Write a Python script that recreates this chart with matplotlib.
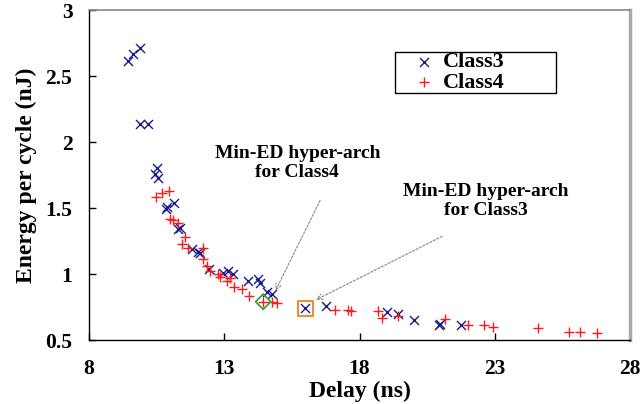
import matplotlib
matplotlib.use("Agg")
import matplotlib.pyplot as plt
from matplotlib.patches import Rectangle
import numpy as np

# ---- data ----
class3_delay = [9.44, 9.63, 9.89, 9.89, 10.19, 10.52, 10.44, 10.56, 10.89, 11.15, 10.85,
                11.30, 11.37, 11.81, 12.04, 12.11, 12.44, 12.96, 13.15, 13.33, 13.89,
                14.26, 14.33, 14.59, 14.78, 16.00, 16.78, 19.00, 19.41, 20.00, 20.96,
                20.93, 21.74]
class3_energy = [2.61, 2.67, 2.71, 2.14, 2.14, 1.80, 1.76, 1.73, 1.51, 1.54, 1.49,
                 1.34, 1.35, 1.19, 1.17, 1.16, 1.04, 1.01, 1.02, 1.00, 0.95,
                 0.96, 0.93, 0.86, 0.85, 0.74, 0.76, 0.71, 0.70, 0.65, 0.62,
                 0.61, 0.61]
class4_delay = [10.48, 10.70, 10.96, 11.00, 11.11, 11.30, 11.56, 11.44, 11.67, 12.22,
                12.22, 12.37, 12.48, 12.78, 12.85, 13.11, 13.22, 13.37, 13.67, 13.93,
                14.44, 14.78, 14.96, 17.11, 17.59, 17.70, 18.67, 18.85, 19.44, 21.15,
                22.00, 22.59, 22.93, 24.59, 25.74, 26.15, 26.78]
class4_energy = [1.58, 1.61, 1.63, 1.42, 1.41, 1.39, 1.28, 1.23, 1.20, 1.20,
                 1.11, 1.06, 1.02, 1.00, 0.98, 0.95, 0.97, 0.90, 0.89, 0.83,
                 0.79, 0.79, 0.78, 0.73, 0.73, 0.72, 0.72, 0.67, 0.68, 0.66,
                 0.61, 0.61, 0.60, 0.59, 0.56, 0.56, 0.55]
x_ticks = [8, 13, 18, 23, 28]
y_ticks = [0.5, 1, 1.5, 2, 2.5, 3]
y_tick_labels = ["0.5", "1", "1.5", "2", "2.5", "3"]

plt.rcParams['font.family'] = ['Liberation Serif', 'DejaVu Serif']
plt.rcParams['font.weight'] = 'bold'

fig = plt.figure(figsize=(6.42, 4.04), dpi=100)
ax = fig.add_axes([89/642, 64/404, 541/642, 330/404])

navy = '#1a1a8c'
red = '#ff1a1a'
ax.scatter(class3_delay, class3_energy, marker='x', s=42, color=navy, linewidths=1.0,
           label='Class3', zorder=3)
ax.scatter(class4_delay, class4_energy, marker='+', s=55, color=red, linewidths=1.0,
           label='Class4', zorder=3)

# Min-ED points
c3d = np.array(class3_delay); c3e = np.array(class3_energy)
c4d = np.array(class4_delay); c4e = np.array(class4_energy)
i3 = np.argmin(c3d * c3e)
i4 = np.argmin(c4d * c4e)
ax.scatter([c3d[i3]], [c3e[i3]], marker='s', s=110, facecolor='none',
           edgecolor='#f08a3c', linewidths=1.5, zorder=2)
ax.scatter([c4d[i4]], [c4e[i4]], marker='D', s=60, facecolor='none',
           edgecolor='#2ca02c', linewidths=1.2, zorder=4)

ax.set_xlim(8, 28)
ax.set_ylim(0.5, 3)
ax.set_xticks(x_ticks)
ax.set_yticks(y_ticks)
ax.set_yticklabels(y_tick_labels)
ax.tick_params(direction='in', length=5, width=1, labelsize=15.5)
ax.tick_params(axis='x', pad=14)
ax.tick_params(axis='y', pad=12)
for lab in ax.get_xticklabels() + ax.get_yticklabels():
    lab.set_fontweight('bold')

ax.set_xlabel('Delay (ns)', fontsize=17, fontweight='bold', labelpad=1)
ax.set_ylabel('Energy per cycle (nJ)', fontsize=17, fontweight='bold', labelpad=6)

for s in ['left', 'bottom']:
    ax.spines[s].set_color('black')
    ax.spines[s].set_linewidth(1.0)
ax.spines['top'].set_color('#888888')
ax.spines['top'].set_linewidth(1.2)
ax.spines['right'].set_color('#aaaaaa')
ax.spines['right'].set_linewidth(2.5)

# annotations
arrow_kw = dict(arrowstyle='->', color='#888888', linestyle=(0, (2, 1.5)), lw=0.8)
ax.annotate('', xy=(14.85, 0.856), xytext=(16.59, 1.576), arrowprops=arrow_kw)
ax.annotate('', xy=(16.30, 0.795), xytext=(21.15, 1.295), arrowprops=arrow_kw)
ax.text(15.70, 1.84, 'Min-ED hyper-arch\nfor Class4', ha='center', va='center',
        fontsize=14, fontweight='bold', linespacing=1.1)
ax.text(22.67, 1.553, 'Min-ED hyper-arch\nfor Class3', ha='center', va='center',
        fontsize=14, fontweight='bold', linespacing=1.1)

# legend: box drawn separately, entries without frame
ax.add_patch(Rectangle((0.5656, 0.7485), 0.8632 - 0.5656, 0.8727 - 0.7485,
                       transform=ax.transAxes, facecolor='white', edgecolor='black',
                       linewidth=1.0, zorder=5))
leg = ax.legend(loc='center left', bbox_to_anchor=(0.59, 0.811), fontsize=16,
                frameon=False, handletextpad=0.15, labelspacing=0.0,
                handlelength=1.4, borderaxespad=0, borderpad=0)
leg.set_zorder(6)
for t in leg.get_texts():
    t.set_fontweight('bold')

fig.savefig('out.png', dpi=100)
